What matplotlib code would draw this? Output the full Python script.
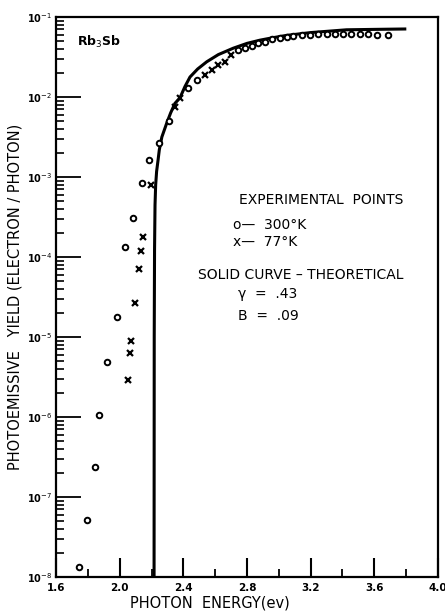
import matplotlib
matplotlib.use("Agg")
import matplotlib.pyplot as plt
from matplotlib.ticker import MultipleLocator, FixedLocator, FixedFormatter, NullFormatter
import numpy as np

plt.rcParams["font.family"] = ["DejaVu Sans"]

# photon energy (eV) and log10(yield)
e_300k = [1.744, 1.797, 1.845, 1.870, 1.922, 1.985, 2.033, 2.086, 2.142, 2.186,
          2.245, 2.31, 2.43, 2.484, 2.745, 2.787, 2.829, 2.871, 2.913, 2.955,
          3.007, 3.049, 3.09, 3.143, 3.195, 3.248, 3.30, 3.352, 3.405, 3.457,
          3.51, 3.562, 3.615, 3.687]
lg_300k = [-7.87, -7.29, -6.63, -5.98, -5.31, -4.75, -3.88, -3.51, -3.08, -2.79,
           -2.58, -2.30, -1.89, -1.79, -1.41, -1.39, -1.36, -1.33, -1.31, -1.275,
           -1.26, -1.245, -1.235, -1.225, -1.22, -1.215, -1.21, -1.21, -1.21, -1.21,
           -1.21, -1.215, -1.22, -1.22]

e_77k = [2.054, 2.065, 2.071, 2.096, 2.123, 2.132, 2.148, 2.195, 2.35, 2.379,
         2.536, 2.578, 2.62, 2.66, 2.70]
lg_77k = [-5.54, -5.20, -5.05, -4.58, -4.15, -3.92, -3.75, -3.10, -2.12, -2.01,
          -1.725, -1.66, -1.60, -1.56, -1.475]

# theoretical curve, points
e_theory = [2.216, 2.217, 2.219, 2.222, 2.226, 2.232, 2.241, 2.249, 2.265, 2.295,
            2.32, 2.347, 2.379, 2.41, 2.442, 2.49, 2.547, 2.62, 2.714, 2.80,
            2.881, 2.96, 3.049, 3.20, 3.426, 3.60, 3.792]
lg_theory = [-8.0, -5.0, -3.91, -3.35, -3.10, -2.93, -2.79, -2.66, -2.50, -2.33,
             -2.20, -2.08, -2.01, -1.87, -1.75, -1.65, -1.56, -1.47, -1.39, -1.33,
             -1.29, -1.26, -1.23, -1.195, -1.16, -1.155, -1.15]

ytick_vals = [1e-8, 1e-7, 1e-6, 1e-5, 1e-4, 1e-3, 1e-2, 1e-1]
ytick_labels = ["10$^{-8}$", "10$^{-7}$", "10$^{-6}$", "10$^{-5}$",
                "10$^{-4}$", "10$^{-3}$", "10$^{-2}$", "10$^{-1}$"]
xtick_vals = [1.6, 2.0, 2.4, 2.8, 3.2, 3.6, 4.0]
xtick_labels = ["1.6", "2.0", "2.4", "2.8", "3.2", "3.6", "4.0"]

fig = plt.figure(figsize=(4.45, 6.11), dpi=100)
ax = fig.add_axes([0.126, 0.0556, 0.858, 0.9166])

ax.plot(e_theory, 10 ** np.array(lg_theory), color="black", lw=2.2,
        solid_joinstyle="round")
ax.plot(e_300k, 10 ** np.array(lg_300k), "o", ms=4, mfc="white", mec="black",
        mew=1.4, ls="none")
ax.plot(e_77k, 10 ** np.array(lg_77k), "x", ms=4, color="black", mew=1.6,
        ls="none")

ax.set_yscale("log")
ax.set_xlim(1.6, 4.0)
ax.set_ylim(1e-8, 1e-1)

ax.yaxis.set_major_locator(FixedLocator(ytick_vals))
ax.yaxis.set_major_formatter(FixedFormatter(ytick_labels))
minor_y = [m * 10.0 ** k for k in range(-8, -1) for m in range(2, 10)]
ax.yaxis.set_minor_locator(FixedLocator(minor_y))
ax.yaxis.set_minor_formatter(NullFormatter())
ax.set_xticks(xtick_vals)
ax.set_xticklabels(xtick_labels)
ax.xaxis.set_minor_locator(MultipleLocator(0.2))

ax.tick_params(axis="y", which="major", direction="in", length=18, width=1.3,
               labelsize=7, pad=3, left=True)
ax.tick_params(axis="y", which="minor", direction="in", length=6, width=1.2,
               left=True, color="black")
ax.tick_params(axis="x", which="major", direction="in", length=14, width=1.5,
               labelsize=7.5, pad=4)
ax.tick_params(axis="x", which="minor", direction="in", length=6, width=1.3)
for lab in ax.get_xticklabels() + ax.get_yticklabels():
    lab.set_fontweight("bold")

for s in ax.spines.values():
    s.set_linewidth(1.6)

ax.set_xlabel("PHOTON  ENERGY(ev)", fontsize=10.5)
ax.xaxis.set_label_coords(0.403, -0.033)
ax.set_ylabel("PHOTOEMISSIVE   YIELD (ELECTRON / PHOTON)", fontsize=10.5,
              labelpad=3)

ax.text(0.055, 0.955, "Rb$_3$Sb", transform=ax.transAxes, fontsize=9,
        fontweight="bold", va="center")

tx = dict(transform=ax.transAxes, fontsize=10, va="center")
ax.text(0.694, 0.673, "EXPERIMENTAL  POINTS", ha="center", **tx)
ax.text(0.463, 0.629, "o\u2014  300\u00b0K", ha="left", **tx)
ax.text(0.463, 0.598, "x\u2014  77\u00b0K", ha="left", **tx)
ax.text(0.641, 0.539, "SOLID CURVE \u2013 THEORETICAL", ha="center", **tx)
ax.text(0.477, 0.506, "\u03b3  =  .43", ha="left", **tx)
ax.text(0.477, 0.466, "B  =  .09", ha="left", **tx)

fig.savefig("out.png", dpi=100)
